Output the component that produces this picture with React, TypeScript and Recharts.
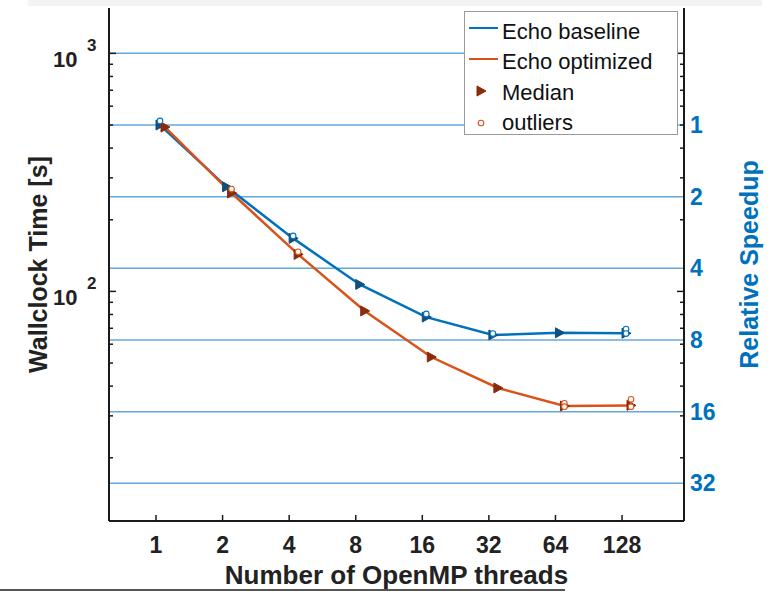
import React from "react";
import {
  ComposedChart,
  Line,
  Scatter,
  XAxis,
  YAxis,
  ReferenceLine,
} from "recharts";

// ---- data ----
const threads = [1, 2, 4, 8, 16, 32, 64, 128];
const baselineMedian = [500, 275, 167, 107, 78, 65.6, 67, 66.7];
const optimizedMedian = [490, 259, 143, 82.8, 53, 39.3, 33.0, 33.2];

const baselineOutlierThreads = [1, 4, 16, 32, 128, 128];
const baselineOutlierTimes = [520, 171, 80.4, 66.5, 69.5, 66.5];
const optimizedOutlierThreads = [2, 4, 64, 64, 128, 128];
const optimizedOutlierTimes = [269, 146.6, 33.9, 32.8, 35.2, 32.8];

const speedupTicks = [1, 2, 4, 8, 16, 32];
const referenceTime = 500; // time that corresponds to a speedup of 1
const majorTimeTicks = [100, 1000];
const minorTimeTicks = [20, 30, 40, 50, 60, 70, 80, 90, 200, 300, 400, 500, 600, 700, 800, 900];

const legendLabels = ["Echo baseline", "Echo optimized", "Median", "outliers"];

// ---- styling / layout ----
const BLUE = "#0072BD";
const ORANGE = "#D95319";
const BLUE_MARK = "#124f7f";
const ORANGE_MARK = "#8a2b0c";
const GRID = "#63a8dc";
const AXIS = "#1a1a1a";
const FONT = "'Liberation Sans', Arial, Helvetica, sans-serif";

const X_DOMAIN: [number, number] = [0.613, 244];
const Y_DOMAIN: [number, number] = [10.85, 1551];
const BASE_SHIFT = 1.0425; // baseline drawn slightly right of its tick
const OPT_SHIFT = 1.098; // optimized drawn a little further right

const baselineRows = threads.map((t, i) => ({ threads: t, time: baselineMedian[i] }));
const optimizedRows = threads.map((t, i) => ({ threads: t, time: optimizedMedian[i] }));
const baselineOutliers = baselineOutlierThreads.map((t, i) => ({ threads: t, time: baselineOutlierTimes[i] }));
const optimizedOutliers = optimizedOutlierThreads.map((t, i) => ({ threads: t, time: optimizedOutlierTimes[i] }));

const speedupTimes = speedupTicks.map((s) => referenceTime / s);
const gridTimes = [1000, ...speedupTimes];
const leftTicks = [...minorTimeTicks, ...majorTimeTicks].sort((a, b) => a - b);
const rightTicks = Array.from(new Set([...leftTicks, ...speedupTimes])).sort((a, b) => a - b);

function MedianMark({ cx, cy, color }: { cx?: number; cy?: number; color: string }) {
  if (cx == null || cy == null) return null;
  return (
    <polygon
      points={`${cx - 4},${cy - 5} ${cx + 5},${cy} ${cx - 4},${cy + 5}`}
      fill={color}
      stroke={color}
      strokeWidth={1}
    />
  );
}

function OutlierMark({ cx, cy, color }: { cx?: number; cy?: number; color: string }) {
  if (cx == null || cy == null) return null;
  return <circle cx={cx} cy={cy} r={2.8} fill="white" stroke={color} strokeWidth={1.1} />;
}

function BottomTick({ x, y, payload }: any) {
  return (
    <g>
      <line x1={x} x2={x} y1={y} y2={y - 6} stroke={AXIS} strokeWidth={1.5} />
      <text x={x} y={y + 32} textAnchor="middle" fontFamily={FONT} fontWeight="bold" fontSize={23} fill="#222">
        {payload.value}
      </text>
    </g>
  );
}

function TopTick({ x, y }: any) {
  return <line x1={x} x2={x} y1={y} y2={y + 6} stroke={AXIS} strokeWidth={1.5} />;
}

function LeftTick({ x, y, payload }: any) {
  const v = payload.value;
  const major = majorTimeTicks.includes(v);
  return (
    <g>
      <line x1={x} x2={x + (major ? 7 : 4)} y1={y} y2={y} stroke={AXIS} strokeWidth={1.5} />
      {major && (
        <g fontFamily={FONT} fontWeight="bold" fill="#222">
          <text x={x - 56} y={y + 14} fontSize={22}>10</text>
          <text x={x - 22} y={y - 2} fontSize={17}>{Math.round(Math.log10(v))}</text>
        </g>
      )}
    </g>
  );
}

function RightTick({ x, y, payload }: any) {
  const v = payload.value;
  const isLog = leftTicks.includes(v);
  const major = majorTimeTicks.includes(v);
  const sIdx = speedupTimes.indexOf(v);
  return (
    <g>
      {isLog && <line x1={x} x2={x - (major ? 7 : 4)} y1={y} y2={y} stroke={AXIS} strokeWidth={1.5} />}
      {sIdx >= 0 && (
        <text x={x + 6} y={y + 8} fontFamily={FONT} fontWeight="bold" fontSize={23} fill={BLUE}>
          {speedupTicks[sIdx]}
        </text>
      )}
    </g>
  );
}

function Legend() {
  const rowY = [20, 50, 81, 111];
  return (
    <div
      style={{
        position: "absolute",
        left: 464,
        top: 11,
        width: 214,
        height: 124,
        boxSizing: "border-box",
        border: "1px solid #9a9a9a",
        background: "white",
      }}
    >
      <svg width={212} height={122} style={{ overflow: "visible" }}>
        <line x1={4} x2={33} y1={rowY[0] - 4} y2={rowY[0] - 4} stroke={BLUE} strokeWidth={2} />
        <line x1={4} x2={33} y1={rowY[1] - 3} y2={rowY[1] - 3} stroke={ORANGE} strokeWidth={2} />
        <MedianMark cx={16} cy={rowY[2] - 2} color={ORANGE_MARK} />
        <OutlierMark cx={16} cy={rowY[3]} color={ORANGE} />
        {legendLabels.map((l, i) => (
          <text key={l} x={37} y={rowY[i] + 7} fontFamily={FONT} fontSize={22} fill="#111">
            {l}
          </text>
        ))}
      </svg>
    </div>
  );
}

export default function App() {
  return (
    <div style={{ position: "absolute", left: 0, top: 0, width: 770, height: 592, background: "white" }}>
      <div style={{ position: "absolute", left: 28, top: 0, width: 734, height: 6, background: "#f3f3f3" }} />
      <div style={{ position: "absolute", left: 0, top: 589, width: 565, height: 2, background: "#555" }} />
      <ComposedChart width={770} height={592} margin={{ top: 8, right: 0, bottom: 0, left: 0 }}>
        <XAxis
          xAxisId="main"
          dataKey="threads"
          type="number"
          scale="log"
          domain={X_DOMAIN}
          allowDataOverflow
          ticks={threads}
          height={71}
          tickSize={0}
          tickMargin={0}
          tick={<BottomTick />}
          axisLine={{ stroke: AXIS, strokeWidth: 2 }}
          label={{
            content: ({ viewBox }: any) => (
              <text
                x={viewBox.x + viewBox.width / 2}
                y={viewBox.y + 63}
                textAnchor="middle"
                fontFamily={FONT}
                fontWeight="bold"
                fontSize={26}
                fill="#222"
              >
                Number of OpenMP threads
              </text>
            ),
          }}
        />
        <XAxis
          xAxisId="top"
          orientation="top"
          dataKey="threads"
          type="number"
          scale="log"
          domain={X_DOMAIN}
          allowDataOverflow
          ticks={threads}
          height={0}
          tickSize={0}
          tickMargin={0}
          tick={<TopTick />}
          axisLine={{ stroke: AXIS, strokeWidth: 2 }}
        />
        <XAxis
          xAxisId="base"
          orientation="top"
          height={0}
          dataKey="threads"
          type="number"
          scale="log"
          domain={[X_DOMAIN[0] / BASE_SHIFT, X_DOMAIN[1] / BASE_SHIFT]}
          allowDataOverflow
          hide
        />
        <XAxis
          xAxisId="opt"
          orientation="top"
          height={0}
          dataKey="threads"
          type="number"
          scale="log"
          domain={[X_DOMAIN[0] / OPT_SHIFT, X_DOMAIN[1] / OPT_SHIFT]}
          allowDataOverflow
          hide
        />
        <YAxis
          yAxisId="left"
          type="number"
          scale="log"
          domain={Y_DOMAIN}
          allowDataOverflow
          ticks={leftTicks}
          interval={0}
          width={109}
          tickSize={0}
          tickMargin={0}
          tick={<LeftTick />}
          axisLine={{ stroke: AXIS, strokeWidth: 2 }}
          label={{
            content: ({ viewBox }: any) => {
              const cy = viewBox.y + viewBox.height / 2;
              return (
                <text
                  x={47}
                  y={cy}
                  transform={`rotate(-90, 47, ${cy})`}
                  textAnchor="middle"
                  fontFamily={FONT}
                  fontWeight="bold"
                  fontSize={25}
                  fill="#222"
                >
                  Wallclock Time [s]
                </text>
              );
            },
          }}
        />
        <YAxis
          yAxisId="right"
          orientation="right"
          type="number"
          scale="log"
          domain={Y_DOMAIN}
          allowDataOverflow
          ticks={rightTicks}
          interval={0}
          width={86}
          tickSize={0}
          tickMargin={0}
          tick={<RightTick />}
          axisLine={{ stroke: AXIS, strokeWidth: 2 }}
          label={{
            content: ({ viewBox }: any) => {
              const cy = viewBox.y + viewBox.height / 2;
              const x = viewBox.x + 74;
              return (
                <text
                  x={x}
                  y={cy}
                  transform={`rotate(-90, ${x}, ${cy})`}
                  textAnchor="middle"
                  fontFamily={FONT}
                  fontWeight="bold"
                  fontSize={25}
                  fill={BLUE}
                >
                  Relative Speedup
                </text>
              );
            },
          }}
        />
        {gridTimes.map((t) => (
          <ReferenceLine key={t} yAxisId="left" xAxisId="main" y={t} stroke={GRID} strokeWidth={1.5} />
        ))}
        <Line
          data={baselineRows}
          dataKey="time"
          xAxisId="base"
          yAxisId="left"
          type="linear"
          stroke={BLUE}
          strokeWidth={2.5}
          isAnimationActive={false}
          dot={(p: any) => <MedianMark key={`b${p.index}`} cx={p.cx} cy={p.cy} color={BLUE_MARK} />}
          activeDot={false}
        />
        <Line
          data={optimizedRows}
          dataKey="time"
          xAxisId="opt"
          yAxisId="left"
          type="linear"
          stroke={ORANGE}
          strokeWidth={2.5}
          isAnimationActive={false}
          dot={(p: any) => <MedianMark key={`o${p.index}`} cx={p.cx} cy={p.cy} color={ORANGE_MARK} />}
          activeDot={false}
        />
        <Scatter
          data={baselineOutliers}
          dataKey="time"
          xAxisId="base"
          yAxisId="left"
          isAnimationActive={false}
          shape={(p: any) => <OutlierMark cx={p.cx} cy={p.cy} color={BLUE} />}
        />
        <Scatter
          data={optimizedOutliers}
          dataKey="time"
          xAxisId="opt"
          yAxisId="left"
          isAnimationActive={false}
          shape={(p: any) => <OutlierMark cx={p.cx} cy={p.cy} color={ORANGE} />}
        />
      </ComposedChart>
      <Legend />
    </div>
  );
}
